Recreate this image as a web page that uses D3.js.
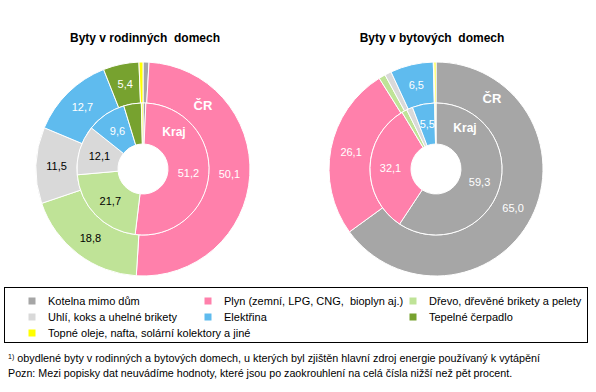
<!DOCTYPE html>
<html>
<head>
<meta charset="utf-8">
<script src="https://cdn.jsdelivr.net/npm/d3@7"></script>
<style>
  body { margin: 0; background: #fff; }
  text { font-family: "Liberation Sans", Arial, sans-serif; }
</style>
</head>
<body>
<div id="chart"></div>
<script>
// categories, in drawing order (clockwise from 12 o'clock)
const categories = [
  "Kotelna mimo dům",
  "Plyn (zemní, LPG, CNG,  bioplyn aj.)",
  "Dřevo, dřevěné brikety a pelety",
  "Uhlí, koks a uhelné brikety",
  "Elektřina",
  "Tepelné čerpadlo",
  "Topné oleje, nafta, solární kolektory a jiné"
];
const colors = ["#a6a6a6", "#ff80ab", "#bfe397", "#d9d9d9", "#5fbbee", "#77a22f", "#ffff00"];
const labelColors = ["#fff", "#fff", "#000", "#000", "#fff", "#fff", "#000"];

// Byty v rodinných domech
const rodinneCR = [0.9, 50.1, 18.8, 11.5, 12.7, 5.4, 0.6];
const rodinneKraj = [0.7, 51.2, 21.7, 12.1, 9.6, 4.3, 0.4];
// Byty v bytových domech
const bytoveCR = [65.0, 26.1, 1.0, 1.0, 6.5, 0.1, 0.3];
const bytoveKraj = [59.3, 32.1, 1.3, 1.5, 5.5, 0.1, 0.2];

const titles = ["Byty v rodinných  domech", "Byty v bytových  domech"];
const footnotes = [
  "obydlené byty v rodinných a bytových domech, u kterých byl zjištěn hlavní zdroj energie používaný k vytápění",
  "Pozn: Mezi popisky dat neuvádíme hodnoty, které jsou po zaokrouhlení na celá čísla nižší než pět procent."
];

const width = 596;
const height = 392;

const svg = d3.select("#chart")
  .append("svg")
  .attr("width", width)
  .attr("height", height)
  .attr("viewBox", [0, 0, width, height]);

svg.append("rect").attr("width", width).attr("height", height).attr("fill", "#fff");

const fmt = d3.formatLocale({ decimal: ",", thousands: " ", grouping: [3], currency: ["", ""] }).format(".1f");

const pie = d3.pie().sort(null).value((d) => d);

const rHole = 25;
const rMid = 66;
const rOuter = 107;

const arcInner = d3.arc().innerRadius(rHole).outerRadius(rMid);
const arcOuter = d3.arc().innerRadius(rMid).outerRadius(rOuter);

function drawDonut(cx, cy, title, titleX, krajData, crData, crPos, krajPos) {
  const g = svg.append("g").attr("transform", `translate(${cx},${cy})`);

  svg.append("text")
    .attr("x", titleX)
    .attr("y", 42)
    .attr("text-anchor", "middle")
    .attr("font-size", 12)
    .attr("font-weight", "bold")
    .style("white-space", "pre")
    .text(title);

  const rings = [
    { data: crData, arc: arcOuter },
    { data: krajData, arc: arcInner }
  ];

  rings.forEach((ring) => {
    const arcs = pie(ring.data);
    g.selectAll(null)
      .data(arcs)
      .join("path")
      .attr("d", ring.arc)
      .attr("fill", (d, i) => colors[i])
      .attr("stroke", "#fff")
      .attr("stroke-width", 1);

    // labels only for values that round to 5 or more
    g.selectAll(null)
      .data(arcs.filter((d) => d.data >= 4.5))
      .join("text")
      .attr("transform", (d) => `translate(${ring.arc.centroid(d)})`)
      .attr("text-anchor", "middle")
      .attr("dy", "0.35em")
      .attr("font-size", 11)
      .attr("fill", (d) => labelColors[d.index])
      .text((d) => fmt(d.data));
  });

  g.append("text")
    .attr("x", crPos[0])
    .attr("y", crPos[1])
    .attr("text-anchor", "middle")
    .attr("dy", "0.35em")
    .attr("font-size", 13)
    .attr("font-weight", "bold")
    .attr("fill", "#fff")
    .text("ČR");

  g.append("text")
    .attr("x", krajPos[0])
    .attr("y", krajPos[1])
    .attr("text-anchor", "middle")
    .attr("dy", "0.35em")
    .attr("font-size", 12)
    .attr("font-weight", "bold")
    .attr("fill", "#fff")
    .text("Kraj");
}

drawDonut(143, 169, titles[0], 145, rodinneKraj, rodinneCR, [60, -64], [31, -37]);
drawDonut(436, 169, titles[1], 432, bytoveKraj, bytoveCR, [56, -71], [29, -41]);

// legend
svg.append("rect")
  .attr("x", 4.5)
  .attr("y", 287.5)
  .attr("width", 583)
  .attr("height", 55)
  .attr("fill", "none")
  .attr("stroke", "#000")
  .attr("stroke-width", 1);

const legendCols = [32, 208, 413];
const legendRows = [301, 317, 333];
const legendPos = [[0, 0], [1, 0], [2, 0], [0, 1], [1, 1], [2, 1], [0, 2]];

const legend = svg.append("g");
categories.forEach((c, i) => {
  const [col, row] = legendPos[i];
  const x = legendCols[col];
  const y = legendRows[row];
  legend.append("rect")
    .attr("x", x - 3.5)
    .attr("y", y - 3.5)
    .attr("width", 7)
    .attr("height", 7)
    .attr("fill", colors[i]);
  legend.append("text")
    .attr("x", x + 16)
    .attr("y", y)
    .attr("dy", "0.35em")
    .attr("font-size", 11)
    .style("white-space", "pre")
    .text(c);
});

// footnotes
const fn = svg.append("text")
  .attr("x", 8)
  .attr("y", 362)
  .attr("font-size", 10.8);
fn.append("tspan").attr("font-size", 7).attr("dy", -3).text("1)");
fn.append("tspan").attr("dy", 3).text(" " + footnotes[0]);

svg.append("text")
  .attr("x", 8)
  .attr("y", 377)
  .attr("font-size", 10.7)
  .text(footnotes[1]);
</script>
</body>
</html>
